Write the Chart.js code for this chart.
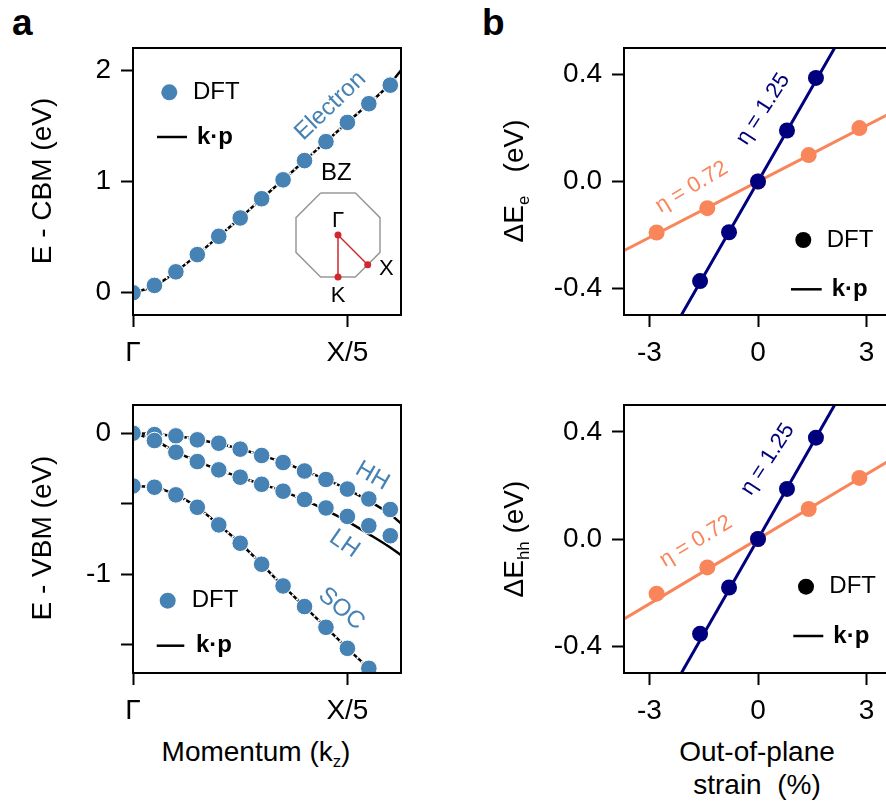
<!DOCTYPE html>
<html><head><meta charset="utf-8">
<script src="https://cdn.jsdelivr.net/npm/chart.js@4/dist/chart.umd.min.js"></script>
<style>
html,body{margin:0;padding:0;background:#fff;overflow:hidden;}
#root{position:relative;width:886px;height:806px;overflow:hidden;font-family:"Liberation Sans",Arial,Helvetica,sans-serif;color:#000;background:#fff;}
canvas{position:absolute;}
.t{position:absolute;white-space:nowrap;line-height:1;transform:translate(-50%,-50%);font-size:28px;}
.r{transform:translate(-50%,-50%) rotate(-90deg);}
.p{position:absolute;font-weight:bold;font-size:37px;line-height:1;}
sub{font-size:0.6em;vertical-align:-0.35em;line-height:0;}
</style></head><body><div id="root">
<div class="p" style="left:12px;top:4px;">a</div>
<div class="p" style="left:482px;top:4px;">b</div>
<canvas id="cA1" width="378" height="357" style="left:33px;top:18px;"></canvas>
<canvas id="cBZ" width="184" height="184" style="left:246px;top:143px;"></canvas>
<canvas id="cA2" width="378" height="358" style="left:33px;top:375px;"></canvas>
<canvas id="cB1" width="378" height="357" style="left:524px;top:18px;"></canvas>
<canvas id="cB2" width="378" height="358" style="left:524px;top:375px;"></canvas>
<div class="t r" style="left:42px;top:181px;">E - CBM (eV)</div>
<div class="t r" style="left:42px;top:538px;">E - VBM (eV)</div>
<div class="t r" style="left:514px;top:181px;">ΔE<sub>e</sub>&nbsp;&nbsp;&nbsp;(eV)</div>
<div class="t r" style="left:514px;top:539px;">ΔE<sub>hh</sub>&nbsp;(eV)</div>
<div class="t" style="left:256px;top:752px;">Momentum (k<sub>z</sub>)</div>
<div class="t" style="left:757px;top:752px;">Out-of-plane</div>
<div class="t" style="left:757px;top:785px;">strain&nbsp;&nbsp;(%)</div>
</div>
<script>
// ---------------- data ----------------
const momentum = [0, 0.1, 0.2, 0.3, 0.4, 0.5, 0.6, 0.7, 0.8, 0.9, 1.0, 1.1, 1.2];
const momentumKp = [0, 0.1, 0.2, 0.3, 0.4, 0.5, 0.6, 0.7, 0.8, 0.9, 1.0, 1.1, 1.2, 1.25];
const electronDFT = [0, 0.066, 0.188, 0.343, 0.507, 0.672, 0.845, 1.015, 1.188, 1.358, 1.531, 1.699, 1.866];
const electronKp  = [0, 0.062, 0.19, 0.343, 0.507, 0.672, 0.845, 1.015, 1.188, 1.358, 1.531, 1.70, 1.88, 2.0];
const hhDFT  = [0, -0.01, -0.019, -0.047, -0.071, -0.113, -0.158, -0.208, -0.268, -0.328, -0.396, -0.466, -0.541];
const hhKp   = [0, -0.005, -0.02, -0.045, -0.075, -0.112, -0.157, -0.207, -0.267, -0.328, -0.398, -0.48, -0.575, -0.64];
const lhDFT  = [0, -0.052, -0.135, -0.201, -0.26, -0.312, -0.362, -0.411, -0.47, -0.53, -0.59, -0.656, -0.727];
const lhKp   = [0, -0.05, -0.133, -0.2, -0.26, -0.312, -0.362, -0.411, -0.475, -0.545, -0.625, -0.715, -0.81, -0.865];
const socMomentum = [0, 0.1, 0.2, 0.3, 0.4, 0.5, 0.6, 0.7, 0.8, 0.9, 1.0, 1.1];
const socDFT = [-0.374, -0.383, -0.437, -0.525, -0.65, -0.78, -0.929, -1.083, -1.229, -1.376, -1.525, -1.667];
const socKp  = [-0.374, -0.383, -0.437, -0.525, -0.65, -0.78, -0.929, -1.083, -1.229, -1.376, -1.525, -1.667, -1.81, -1.88];
const momentumTicks = [0, 1];
const momentumTickLabels = ['Γ', 'X/5'];
const cbmTicks = [0, 1, 2];
const cbmTickLabels = ['0', '1', '2'];
const vbmTicks = [-1.5, -1, -0.5, 0];
const vbmTickLabels = ['', '-1', '', '0'];

const strainNavy = [-1.6, -0.8, 0, 0.8, 1.6];
const strainOrange = [-2.8, -1.4, 0, 1.4, 2.8];
const deltaEeNavy = [-0.373, -0.19, 0, 0.191, 0.388];
const deltaEeOrange = [-0.191, -0.1, 0, 0.099, 0.2];
const deltaEhhNavy = [-0.354, -0.181, 0, 0.187, 0.378];
const deltaEhhOrange = [-0.204, -0.106, 0, 0.112, 0.228];
const strainKpNavy = [-2.2, 2.2];
const strainKpOrange = [-3.8, 3.8];
const eKpNavy = [-0.52, 0.52];
const eKpOrange = [-0.266, 0.266];
const hhKpNavy = [-0.52, 0.52];
const hhKpOrange = [-0.307, 0.307];
const strainTicks = [-3, 0, 3];
const strainTickLabels = ['-3', '0', '3'];
const deltaTicks = [-0.4, 0, 0.4];
const deltaTickLabels = ['-0.4', '0.0', '0.4'];

// Brillouin zone inset
const bzOctX = [-0.414, 0.414, 1, 1, 0.414, -0.414, -1, -1, -0.414];
const bzOctY = [1, 1, 0.414, -0.414, -1, -1, -0.414, 0.414, 1];
const bzPathX = [0, 0, 0.707];   // K, Γ, X
const bzPathY = [-1, 0, -0.707];

// ---------------- style ----------------
const FONT = '"Liberation Sans", Arial, Helvetica, sans-serif';
Chart.defaults.font.family = FONT;
Chart.defaults.color = '#000';
const BLUE = '#4682b4', NAVY = '#00007f', ORANGE = '#f9855a', RED = '#d22630';

const pts = (xs, ys) => xs.map((x, i) => ({x, y: ys[i]}));

function axis(min, max, ticks, labels, fit, pad) {
  return {
    type: 'linear', min, max,
    afterBuildTicks: s => { s.ticks = ticks.map(v => ({value: v})); },
    ticks: {
      autoSkip: false, maxRotation: 0, minRotation: 0, padding: pad,
      font: {size: 28, family: FONT}, color: '#000',
      callback: v => { const i = ticks.findIndex(t => Math.abs(t - v) < 1e-9); return i >= 0 ? labels[i] : ''; }
    },
    grid: {drawOnChartArea: false, drawTicks: true, tickLength: 12, tickWidth: 2, tickColor: '#000'},
    border: {display: true, color: '#000', width: 2},
    afterFit: s => { if (s.isHorizontal()) s.height = fit; else s.width = fit; }
  };
}

const framePlugin = {
  id: 'frame',
  afterDatasetsDraw(chart) {
    const {ctx, chartArea: a} = chart;
    ctx.save(); ctx.strokeStyle = '#000'; ctx.lineWidth = 2;
    ctx.strokeRect(a.left, a.top, a.right - a.left, a.bottom - a.top);
    ctx.restore();
  }
};
const annotPlugin = {
  id: 'annot',
  afterDraw(chart, args, o) {
    const {ctx} = chart; const xs = chart.scales.x, ys = chart.scales.y;
    for (const it of (o.items || [])) {
      ctx.save();
      ctx.translate(xs.getPixelForValue(it.x), ys.getPixelForValue(it.y));
      ctx.rotate((it.angle || 0) * Math.PI / 180);
      ctx.font = `${it.size}px ${FONT}`;
      ctx.fillStyle = it.color; ctx.textAlign = 'center'; ctx.textBaseline = 'middle';
      ctx.fillText(it.text, 0, 0);
      ctx.restore();
    }
  }
};
const legendPlugin = {
  id: 'kpLegend',
  afterDraw(chart, args, o) {
    const {ctx, chartArea: {left, top}} = chart;
    for (const it of (o.items || [])) {
      ctx.save();
      if (it.kind === 'point') {
        ctx.fillStyle = it.color; ctx.beginPath();
        ctx.arc(left + it.x, top + it.y, 8, 0, Math.PI * 2); ctx.fill();
      } else {
        ctx.strokeStyle = it.color; ctx.lineWidth = 2.5; ctx.beginPath();
        ctx.moveTo(left + it.x1, top + it.y); ctx.lineTo(left + it.x2, top + it.y); ctx.stroke();
      }
      ctx.font = `${it.bold ? 'bold ' : ''}24px ${FONT}`;
      ctx.fillStyle = '#000'; ctx.textAlign = 'left'; ctx.textBaseline = 'middle';
      ctx.fillText(it.label, left + it.tx, top + it.y);
      ctx.restore();
    }
  }
};

function dft(xs, ys, color, order, dashed) {
  return {data: pts(xs, ys), showLine: !!dashed, borderColor: '#fff', borderWidth: 2.2, borderDash: [2, 4],
    pointRadius: dashed ? 8.3 : 8, pointBackgroundColor: color, pointBorderColor: '#fff', pointBorderWidth: dashed ? 1 : 0,
    clip: 0, order};
}
function kp(xs, ys, color, w, order) {
  return {data: pts(xs, ys), showLine: true, borderColor: color, borderWidth: w, pointRadius: 0,
    cubicInterpolationMode: 'monotone', clip: 0, order};
}
function base(datasets, xAx, yAx, plugOpts) {
  return {
    type: 'scatter',
    data: {datasets},
    options: {
      responsive: false, animation: false, events: [],
      layout: {padding: {left: 0, top: 30, right: 10, bottom: 0}},
      scales: {x: xAx, y: yAx},
      plugins: Object.assign({legend: {display: false}, tooltip: {enabled: false}}, plugOpts)
    },
    plugins: [framePlugin, annotPlugin, legendPlugin]
  };
}

// Panel a (top): electron
new Chart(document.getElementById('cA1'), base(
  [kp(momentumKp, electronKp, '#000', 2.5, 5), dft(momentum, electronDFT, BLUE, 1, true)],
  axis(0, 1.25, momentumTicks, momentumTickLabels, 60, 9),
  axis(-0.2, 2.2, cbmTicks, cbmTickLabels, 100, 10),
  {
    annot: {items: [{text: 'Electron', x: 0.921, y: 1.679, angle: -43.6, size: 24, color: BLUE}]},
    kpLegend: {items: [
      {kind: 'point', color: BLUE, x: 36.3, y: 44.3, tx: 60, label: 'DFT'},
      {kind: 'line', color: '#000', x1: 24, x2: 54, y: 89, tx: 64, label: 'k·p', bold: true}
    ]}
  }
));

// Brillouin zone inset
new Chart(document.getElementById('cBZ'), {
  type: 'scatter',
  data: {datasets: [
    {data: pts(bzPathX, bzPathY), showLine: true, borderColor: RED, borderWidth: 1.5,
      pointRadius: 3.5, pointBackgroundColor: RED, pointBorderWidth: 0, clip: false, order: 1},
    {data: pts(bzOctX, bzOctY), showLine: true, borderColor: '#999', borderWidth: 1.5, pointRadius: 0, clip: false, order: 2}
  ]},
  options: {
    responsive: false, animation: false, events: [],
    layout: {padding: 50},
    scales: {x: {display: false, min: -1, max: 1}, y: {display: false, min: -1, max: 1}},
    plugins: {legend: {display: false}, tooltip: {enabled: false},
      annot: {items: [
        {text: 'BZ', x: -0.04, y: 1.47, size: 24, color: '#000'},
        {text: 'Γ', x: 0, y: 0.34, size: 22, color: '#000'},
        {text: 'X', x: 1.15, y: -0.8, size: 22, color: '#000'},
        {text: 'K', x: 0, y: -1.45, size: 22, color: '#000'}
      ]}}
  },
  plugins: [annotPlugin]
});

// Panel a (bottom): valence bands
new Chart(document.getElementById('cA2'), base(
  [kp(momentumKp, hhKp, '#000', 2.5, 7), kp(momentumKp, lhKp, '#000', 2.5, 6), kp(momentumKp, socKp, '#000', 2.5, 5),
   dft(momentum, hhDFT, BLUE, 3, true), dft(momentum, lhDFT, BLUE, 2, true), dft(socMomentum, socDFT, BLUE, 1, true)],
  axis(0, 1.25, momentumTicks, momentumTickLabels, 60, 9),
  axis(-1.7, 0.2, vbmTicks, vbmTickLabels, 100, 10),
  {
    annot: {items: [
      {text: 'HH', x: 1.116, y: -0.303, angle: 30, size: 24, color: BLUE},
      {text: 'LH', x: 0.986, y: -0.785, angle: 35, size: 24, color: BLUE},
      {text: 'SOC', x: 0.972, y: -1.246, angle: 40, size: 24, color: BLUE}
    ]},
    kpLegend: {items: [
      {kind: 'point', color: BLUE, x: 34.7, y: 195.7, tx: 58.7, label: 'DFT'},
      {kind: 'line', color: '#000', x1: 23.7, x2: 51.3, y: 240.7, tx: 63, label: 'k·p', bold: true}
    ]}
  }
));

// Panel b (top): ΔE_e
new Chart(document.getElementById('cB1'), base(
  [kp(strainKpNavy, eKpNavy, NAVY, 3, 6), kp(strainKpOrange, eKpOrange, ORANGE, 3, 5),
   dft(strainOrange, deltaEeOrange, ORANGE, 2, false), dft(strainNavy, deltaEeNavy, NAVY, 1, false)],
  axis(-3.7, 3.7, strainTicks, strainTickLabels, 60, 9),
  axis(-0.5, 0.5, deltaTicks, deltaTickLabels, 100, 10),
  {
    annot: {items: [
      {text: 'η = 1.25', x: 0.146, y: 0.271, angle: -57, size: 22, color: NAVY},
      {text: 'η = 0.72', x: -1.83, y: -0.021, angle: -31, size: 22, color: ORANGE}
    ]},
    kpLegend: {items: [
      {kind: 'point', color: '#000', x: 179.3, y: 192, tx: 202.7, label: 'DFT'},
      {kind: 'line', color: '#000', x1: 167, x2: 197.7, y: 241.3, tx: 207.7, label: 'k·p', bold: true}
    ]}
  }
));

// Panel b (bottom): ΔE_hh
new Chart(document.getElementById('cB2'), base(
  [kp(strainKpNavy, hhKpNavy, NAVY, 3, 6), kp(strainKpOrange, hhKpOrange, ORANGE, 3, 5),
   dft(strainOrange, deltaEhhOrange, ORANGE, 2, false), dft(strainNavy, deltaEhhNavy, NAVY, 1, false)],
  axis(-3.7, 3.7, strainTicks, strainTickLabels, 60, 9),
  axis(-0.5, 0.5, deltaTicks, deltaTickLabels, 100, 10),
  {
    annot: {items: [
      {text: 'η = 1.25', x: 0.268, y: 0.297, angle: -57, size: 22, color: NAVY},
      {text: 'η = 0.72', x: -1.71, y: -0.009, angle: -31, size: 22, color: ORANGE}
    ]},
    kpLegend: {items: [
      {kind: 'point', color: '#000', x: 182, y: 181.7, tx: 205.3, label: 'DFT'},
      {kind: 'line', color: '#000', x1: 169.3, x2: 199.3, y: 231, tx: 209.3, label: 'k·p', bold: true}
    ]}
  }
));
</script>
</body></html>
